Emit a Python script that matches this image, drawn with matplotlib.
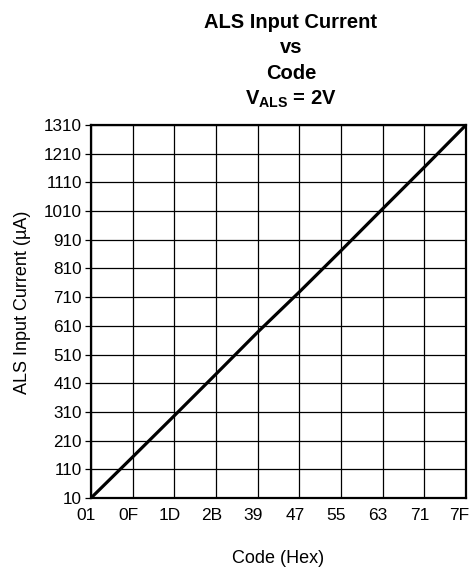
import matplotlib
matplotlib.use("Agg")
import matplotlib.pyplot as plt
from matplotlib.transforms import ScaledTranslation

plt.rcParams['font.family'] = ['Liberation Sans', 'DejaVu Sans']
plt.rcParams['mathtext.fontset'] = 'custom'
plt.rcParams['mathtext.rm'] = 'Liberation Sans'
plt.rcParams['mathtext.bf'] = 'Liberation Sans:bold'

# data (code in hex, current in uA)
codes_hex = ['01', '0F', '1D', '2B', '39', '47', '55', '63', '71', '7F']
current_ua = [10, 153, 297, 442, 588, 728, 872, 1018, 1163, 1310]
y_ticks = [10, 110, 210, 310, 410, 510, 610, 710, 810, 910, 1010, 1110, 1210, 1310]

codes = [int(c, 16) for c in codes_hex]

fig = plt.figure(figsize=(4.71, 5.69), dpi=100)
ax = fig.add_axes([91 / 471, 71 / 569, 375 / 471, 373 / 569])

ax.plot(codes, current_ua, color='black', linewidth=2.3, solid_capstyle='butt', zorder=3)

ax.set_xlim(codes[0], codes[-1])
ax.set_ylim(y_ticks[0], y_ticks[-1])
ax.set_xticks(codes)
ax.set_xticklabels(codes_hex)
ax.set_yticks(y_ticks)
ax.grid(True, color='black', linewidth=0.9)
ax.tick_params(axis='x', length=0, pad=7, labelsize=12.5)
ax.tick_params(axis='y', length=4, width=0.9, pad=2.5, labelsize=12.3)
for s in ax.spines.values():
    s.set_linewidth(1.6)
    s.set_zorder(4)

# the hex labels sit a little left of their grid lines in the reference
labels = ax.get_xticklabels()
for i, lab in enumerate(labels):
    dx = -7 if i == len(labels) - 1 else -4.5
    lab.set_transform(lab.get_transform() + ScaledTranslation(dx / 100, 0, fig.dpi_scale_trans))

fig.text(23 / 471, 1 - 302 / 569, 'ALS Input Current (\u00b5A)', rotation=90,
         ha='center', va='center', fontsize=13)
fig.text(278 / 471, 1 - 563 / 569, 'Code (Hex)', ha='center', va='baseline', fontsize=13)

title_lines = ['ALS Input Current', 'vs', 'Code', r'$\mathbf{V_{ALS}}$ = 2V']
title_base = [28, 53, 79, 105]
for t, yy in zip(title_lines, title_base):
    fig.text(291 / 471, 1 - yy / 569, t, ha='center', va='baseline',
             fontsize=14.5, fontweight='bold')

fig.savefig('out.png', dpi=100)
